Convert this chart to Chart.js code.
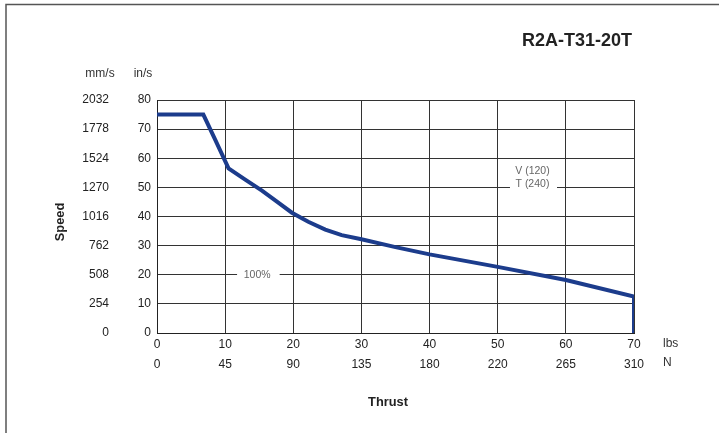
<!DOCTYPE html>
<html>
<head>
<meta charset="utf-8">
<script src="https://cdn.jsdelivr.net/npm/chart.js@4/dist/chart.umd.min.js"></script>
<style>
  html, body { margin: 0; padding: 0; background: #ffffff; }
  canvas { display: block; }
</style>
</head>
<body>
<canvas id="c" width="719" height="433"></canvas>
<script>
// ---- data ----
const thrustLbs = [0, 6.8, 8.5, 10.5, 13, 15.4, 17.6, 19.8, 22.2, 24.7, 27.1, 30, 35, 40, 50, 60, 70, 70];
const speedIns  = [75, 75, 66.6, 56.5, 52.6, 48.9, 45.1, 41.3, 38.2, 35.5, 33.6, 32.2, 29.5, 27, 22.7, 18.2, 12.5, 0];
const speedMmLabels  = ['0', '254', '508', '762', '1016', '1270', '1524', '1778', '2032'];
const thrustNLabels  = ['0', '45', '90', '135', '180', '220', '265', '310'];
const titleText = 'R2A-T31-20T';

const FONT = '"Liberation Sans", Arial, Helvetica, sans-serif';

const textPlugin = {
  id: 'texts',
  afterDraw(chart) {
    const ctx = chart.ctx;
    const x = chart.scales.x, y = chart.scales.y;
    ctx.save();
    // frame
    ctx.strokeStyle = '#555';
    ctx.lineWidth = 1.5;
    ctx.beginPath();
    ctx.moveTo(6, 433); ctx.lineTo(6, 4.5); ctx.lineTo(719, 4.5);
    ctx.stroke();

    // title
    ctx.fillStyle = '#222';
    ctx.font = 'bold 18px ' + FONT;
    ctx.textAlign = 'right';
    ctx.textBaseline = 'middle';
    ctx.fillText(titleText, 632, 41);

    // unit headers
    ctx.font = '12px ' + FONT;
    ctx.textAlign = 'center';
    ctx.fillStyle = '#333';
    ctx.fillText('mm/s', 100, 74);
    ctx.fillText('in/s', 143, 74);
    ctx.textAlign = 'left';
    ctx.fillText('lbs', 663, 344);
    ctx.fillText('N', 663, 363);

    // axis titles
    ctx.fillStyle = '#222';
    ctx.font = 'bold 12.8px ' + FONT;
    ctx.textAlign = 'center';
    ctx.fillText('Thrust', 388, 402);
    ctx.save();
    ctx.translate(60, 222);
    ctx.rotate(-Math.PI / 2);
    ctx.fillText('Speed', 0, 0);
    ctx.restore();

    // annotation 100%
    ctx.fillStyle = '#fff';
    let x0 = x.getPixelForValue(11.75), x1 = x.getPixelForValue(18.0);
    let yl = y.getPixelForValue(20);
    ctx.fillRect(x0, yl - 2, x1 - x0, 4);
    ctx.fillStyle = '#666';
    ctx.font = '10.5px ' + FONT;
    ctx.fillText('100%', x.getPixelForValue(14.7), yl + 0.5);

    // annotation V/T
    ctx.fillStyle = '#fff';
    x0 = x.getPixelForValue(51.8); x1 = x.getPixelForValue(58.7);
    yl = y.getPixelForValue(50);
    ctx.fillRect(x0, yl - 2, x1 - x0, 4);
    ctx.fillStyle = '#666';
    const cx = x.getPixelForValue(55.1);
    ctx.fillText('V (120)', cx, yl - 16);
    ctx.fillText('T (240)', cx, yl - 3);
    ctx.restore();
  }
};

const tickFont = { family: FONT, size: 12 };

new Chart(document.getElementById('c'), {
  type: 'line',
  data: {
    datasets: [{
      data: thrustLbs.map((v, i) => ({ x: v, y: speedIns[i] })),
      borderColor: '#1c3c8c',
      borderWidth: 4,
      pointRadius: 0,
      tension: 0,
      fill: false
    }]
  },
  options: {
    responsive: false,
    animation: false,
    devicePixelRatio: 1,
    layout: { padding: { left: 20, right: 85, top: 100, bottom: 52 } },
    plugins: { legend: { display: false }, tooltip: { enabled: false } },
    scales: {
      x: {
        type: 'linear', position: 'bottom', weight: 0,
        min: 0, max: 70,
        ticks: { stepSize: 10, font: tickFont, color: '#222', padding: 4, maxRotation: 0 },
        grid: { color: '#333', lineWidth: 1, drawTicks: false },
        border: { color: '#222', width: 1 },
        afterFit: (a) => { a.height = 18; }
      },
      x2: {
        type: 'linear', position: 'bottom', weight: 1,
        min: 0, max: 70,
        ticks: { stepSize: 10, font: tickFont, color: '#222', padding: 6, maxRotation: 0,
                 callback: (v) => thrustNLabels[Math.round(v / 10)] },
        grid: { display: false, drawTicks: false },
        border: { display: false },
        afterFit: (a) => { a.height = 30; }
      },
      y: {
        type: 'linear', position: 'left', weight: 0,
        min: 0, max: 80,
        ticks: { stepSize: 10, font: tickFont, color: '#222', padding: 6 },
        grid: { color: '#333', lineWidth: 1, drawTicks: false },
        border: { color: '#222', width: 1 },
        afterFit: (a) => { a.width = 48; }
      },
      y2: {
        type: 'linear', position: 'left', weight: 1,
        min: 0, max: 80,
        ticks: { stepSize: 10, font: tickFont, color: '#222', padding: 0,
                 callback: (v) => speedMmLabels[Math.round(v / 10)] },
        grid: { display: false, drawTicks: false },
        border: { display: false },
        afterFit: (a) => { a.width = 89; }
      }
    }
  },
  plugins: [textPlugin]
});
</script>
</body>
</html>
